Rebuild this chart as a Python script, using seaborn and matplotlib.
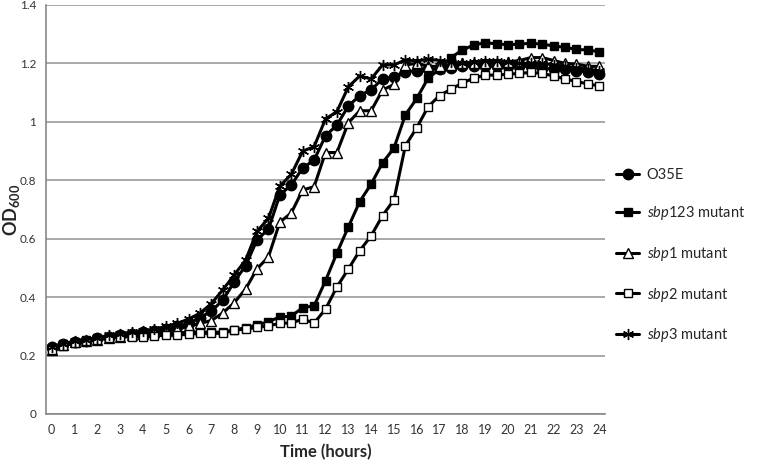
import numpy as np
import pandas as pd
import matplotlib
matplotlib.use("Agg")
import matplotlib.pyplot as plt
import seaborn as sns

sns.set_style("white")
plt.rcParams['font.family'] = ['Lato', 'DejaVu Sans']
plt.rcParams['mathtext.fontset'] = 'custom'
plt.rcParams['mathtext.rm'] = 'Lato'
plt.rcParams['mathtext.it'] = 'Lato:italic'
plt.rcParams['mathtext.bf'] = 'Lato:bold'

# time points, one every half hour (0 .. 24 h)
hours = np.arange(0, 24.5, 0.5)

o35e = [0.23, 0.24, 0.245, 0.25, 0.26, 0.265, 0.27, 0.275, 0.28, 0.285,
        0.29, 0.30, 0.31, 0.33, 0.352, 0.39, 0.452, 0.508, 0.596, 0.633,
        0.75, 0.784, 0.842, 0.869, 0.952, 0.989, 1.054, 1.09, 1.11, 1.147,
        1.154, 1.172, 1.175, 1.18, 1.18, 1.185, 1.19, 1.19, 1.19, 1.19,
        1.19, 1.19, 1.19, 1.185, 1.18, 1.18, 1.175, 1.17, 1.165]
sbp123 = [0.225, 0.24, 0.248, 0.255, 0.26, 0.265, 0.27, 0.27, 0.272, 0.275,
          0.277, 0.278, 0.28, 0.28, 0.28, 0.28, 0.288, 0.295, 0.305, 0.316,
          0.332, 0.335, 0.364, 0.37, 0.456, 0.551, 0.64, 0.727, 0.787, 0.86,
          0.91, 1.024, 1.08, 1.15, 1.18, 1.22, 1.246, 1.263, 1.271, 1.267,
          1.264, 1.266, 1.269, 1.266, 1.26, 1.255, 1.248, 1.246, 1.24]
sbp1 = [0.22, 0.235, 0.245, 0.25, 0.255, 0.26, 0.265, 0.27, 0.275, 0.28,
        0.285, 0.29, 0.30, 0.31, 0.32, 0.346, 0.381, 0.428, 0.497, 0.538,
        0.657, 0.688, 0.767, 0.778, 0.895, 0.895, 0.997, 1.038, 1.038, 1.109,
        1.128, 1.195, 1.2, 1.19, 1.19, 1.195, 1.2, 1.2, 1.2, 1.2,
        1.205, 1.21, 1.22, 1.22, 1.21, 1.2, 1.198, 1.19, 1.19]
sbp2 = [0.219, 0.233, 0.243, 0.251, 0.253, 0.26, 0.263, 0.265, 0.263, 0.267,
        0.27, 0.27, 0.273, 0.276, 0.276, 0.276, 0.288, 0.29, 0.297, 0.301,
        0.311, 0.311, 0.325, 0.311, 0.359, 0.435, 0.496, 0.559, 0.61, 0.679,
        0.733, 0.918, 0.98, 1.052, 1.09, 1.112, 1.133, 1.15, 1.16, 1.16,
        1.163, 1.166, 1.169, 1.166, 1.157, 1.147, 1.138, 1.13, 1.123]
sbp3 = [0.23, 0.24, 0.25, 0.255, 0.26, 0.27, 0.275, 0.28, 0.285, 0.29,
        0.30, 0.31, 0.325, 0.345, 0.378, 0.425, 0.476, 0.527, 0.625, 0.67,
        0.78, 0.82, 0.90, 0.915, 1.01, 1.035, 1.12, 1.157, 1.147, 1.195,
        1.195, 1.212, 1.208, 1.215, 1.21, 1.205, 1.2, 1.205, 1.21, 1.21,
        1.205, 1.2, 1.2, 1.2, 1.195, 1.19, 1.185, 1.18, 1.175]

labels = ['O35E', r'$\mathit{sbp123}$ mutant', r'$\mathit{sbp1}$ mutant',
          r'$\mathit{sbp2}$ mutant', r'$\mathit{sbp3}$ mutant']
series = [o35e, sbp123, sbp1, sbp2, sbp3]
styles = [dict(marker='o', markersize=7.5, markerfacecolor='black'),
          dict(marker='s', markersize=5.5, markerfacecolor='black'),
          dict(marker='^', markersize=7.5, markerfacecolor='white'),
          dict(marker='s', markersize=6, markerfacecolor='white'),
          dict(marker=(6, 2, 0), markersize=8, markerfacecolor='black')]

fig = plt.figure(figsize=(7.6, 4.62), dpi=100)
ax = fig.add_axes([46 / 760, 1 - 414 / 462, (605 - 46) / 760, 409 / 462])

for vals, lab, st in zip(series, labels, styles):
    sns.lineplot(x=hours, y=vals, ax=ax, color='black', linewidth=2.2,
                 markeredgecolor='black', markeredgewidth=1.0, label=lab, **st)

ax.set_xlim(-0.25, 24.25)
ax.set_ylim(0, 1.4)
ax.set_yticks(np.arange(0, 1.41, 0.2))
ax.set_yticklabels(['0', '0.2', '0.4', '0.6', '0.8', '1', '1.2', '1.4'])
ax.set_xticks(np.arange(0, 25, 1))
ax.set_xticklabels([str(i) for i in range(25)])
ax.set_xticks(np.arange(-0.25, 24.3, 0.5), minor=True)
ax.tick_params(axis='x', which='major', length=0, pad=7, labelsize=9, colors='#333333')
ax.tick_params(axis='x', which='minor', length=4, color='#888888', width=1)
ax.tick_params(axis='y', which='major', length=4, color='#888888', labelsize=8.5,
               labelcolor='#333333', pad=3)
ax.yaxis.grid(True, color='#999999', linewidth=1.2)
ax.set_axisbelow(True)
for side in ['top', 'right']:
    ax.spines[side].set_visible(False)
for side in ['left', 'bottom']:
    ax.spines[side].set_color('#888888')
    ax.spines[side].set_linewidth(1.2)

ax.set_xlabel('Time (hours)', fontsize=12, fontweight='bold', labelpad=6)
ax.set_ylabel(r'$\mathbf{OD_{600}}$', fontsize=13)
ax.yaxis.set_label_coords((22 - 46) / 559, (414 - 210) / 409)

handles, labs = ax.get_legend_handles_labels()
ax.legend(handles, labs, loc='center left', bbox_to_anchor=(603 / 760, 1 - 256 / 462),
          bbox_transform=fig.transFigure, frameon=False, fontsize=10.5,
          handlelength=1.6, handletextpad=0.5, labelspacing=1.55)

fig.savefig('out.png', dpi=100)
